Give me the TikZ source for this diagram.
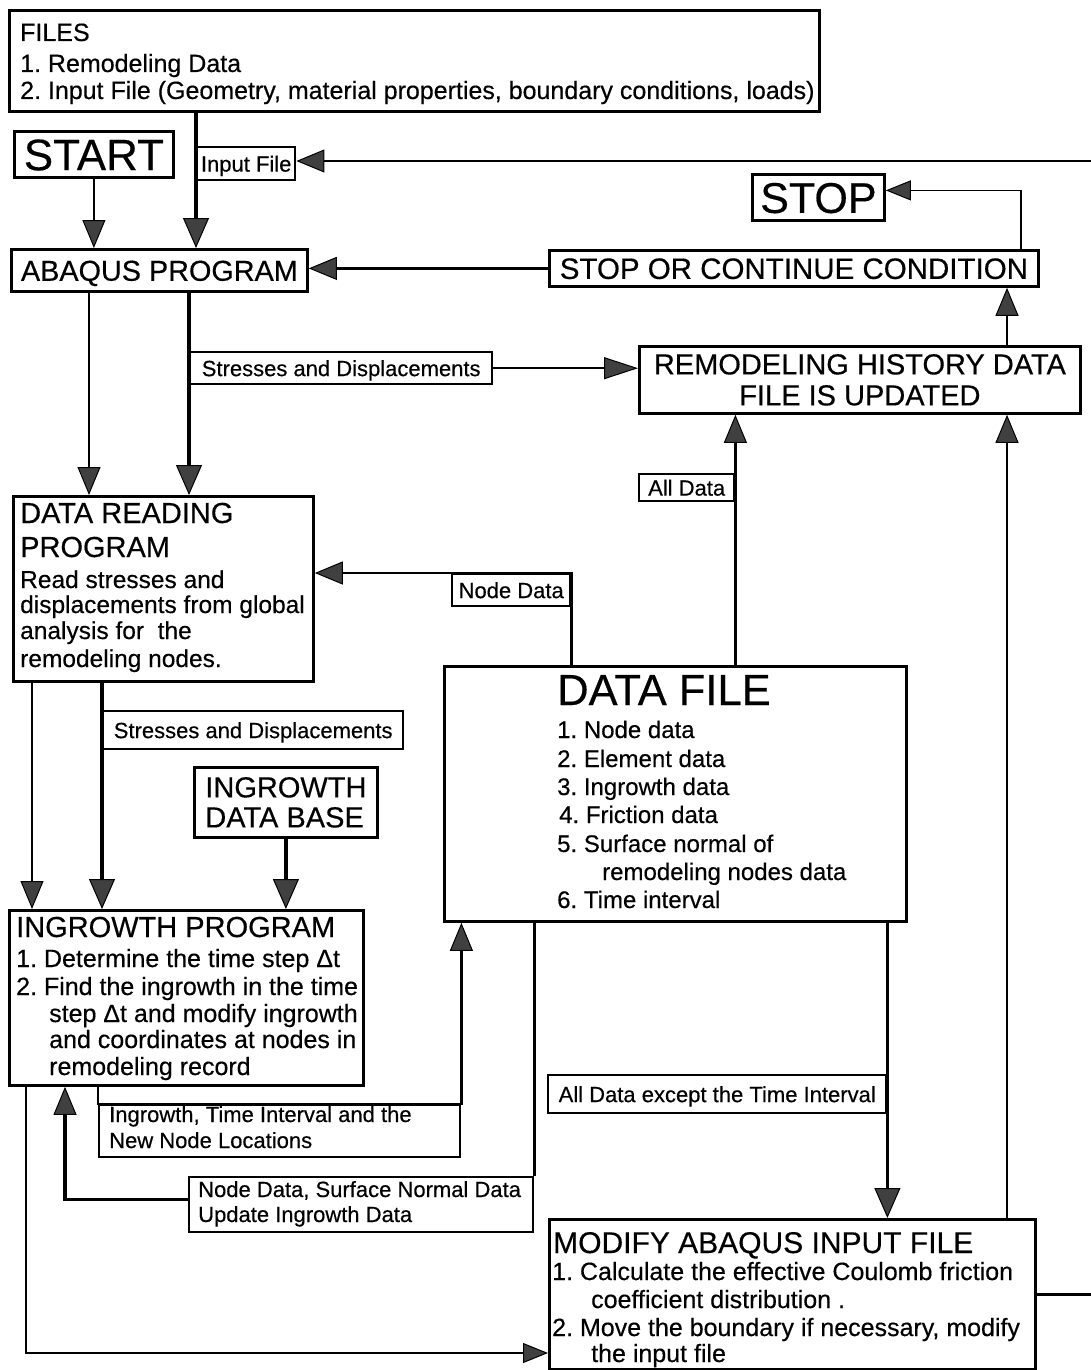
\documentclass[tikz,border=0pt]{standalone}
\usepackage{fontspec}
\setmainfont{Liberation Sans}[FakeBold=0.4]
\usetikzlibrary{arrows.meta}
\newcommand\fsz[1]{\fontsize{#1}{#1}\selectfont}
\newcommand\tline[5]{\node[tl] (#1) at (#2,#3) {\fsz{#4}#5};}
\begin{document}
\frenchspacing
\begin{tikzpicture}[x=1pt,y=-1pt,
  box/.style={draw, line width=2.8pt, inner sep=0pt, anchor=north west, fill=white},
  lab/.style={draw, line width=2.4pt, inner sep=0pt, anchor=north west, fill=white, font=\fsz{22}, text height=15.8pt, text depth=0pt},
  tl/.style={inner sep=0pt, anchor=base west},
  thinln/.style={line width=1.7pt},
  medln/.style={line width=2.4pt},
  thickln/.style={line width=3.4pt},
  arrS/.style={-{Triangle[length=25pt,width=20pt,fill=black!75,line width=1pt]}},
  arrM/.style={-{Triangle[length=28pt,width=23pt,fill=black!75,line width=1pt]}},
  arrL/.style={-{Triangle[length=30pt,width=26pt,fill=black!75,line width=1pt]}},
  arrLong/.style={-{Triangle[length=34pt,width=22pt,fill=black!75,line width=1pt]}}
]
\path[fill=white,use as bounding box] (0,0) rectangle (1091,1370);

% ---------- boxes ----------
\node[box, minimum width=810, minimum height=101] (files) at (8,9) {};
\node[box, minimum width=159, minimum height=46, font=\fsz{44}, text height=31.5pt, text depth=0pt] (start) at (13,130) {START};
\node[lab, minimum width=98, minimum height=33] (inlab) at (196,146) {Input File};
\node[box, minimum width=296, minimum height=42, font=\fsz{28.8}, text height=20.7pt, text depth=0pt] (abaqus) at (10,248) {ABAQUS PROGRAM};
\node[box, minimum width=132, minimum height=46, font=\fsz{43}, text height=31pt, text depth=0pt] (stop) at (751,173) {STOP};
\node[box, minimum width=489, minimum height=36, font=\fsz{29.5}, text height=21pt, text depth=0pt] (stopcond) at (548,249) {STOP OR CONTINUE CONDITION};
\node[box, minimum width=441, minimum height=67, align=center, font=\fontsize{29}{31}\selectfont] (remod) at (638,345) {REMODELING HISTORY DATA\\FILE IS UPDATED};
\node[lab, minimum width=302, minimum height=32] (sdlab1) at (189,351) {Stresses and Displacements};
\node[lab, minimum width=95, minimum height=27] (alldat) at (638,473) {All Data};
\node[box, minimum width=300, minimum height=185] (dataread) at (12,495) {};
\node[lab, minimum width=118, minimum height=32] (ndlab) at (451,573) {Node Data};
\node[box, minimum width=462, minimum height=255] (datafile) at (443,665) {};
\node[lab, minimum width=300, minimum height=38] (sdlab2) at (102,710) {Stresses and Displacements};
\node[box, minimum width=183, minimum height=70, align=left, font=\fontsize{29}{30}\selectfont] (igdb) at (193,766) {INGROWTH\\DATA BASE};
\node[box, minimum width=354, minimum height=175] (ingrowth) at (8,909) {};
\node[lab, minimum width=338, minimum height=38] (adlab) at (547,1074) {All Data except the Time Interval};
\node[lab, minimum width=361, minimum height=52] (inglab) at (98,1104) {};
\node[lab, minimum width=344, minimum height=55] (ndlab2) at (188,1176) {};
\node[box, minimum width=486, minimum height=150] (modify) at (548,1218) {};

% ---------- texts ----------
\tline{f1}{20}{41}{25}{FILES}
\tline{f2}{20}{72}{25}{1. Remodeling Data}
\tline{f3}{20}{99}{25}{2. Input File (Geometry, material properties, boundary conditions, loads)}

\tline{dr1}{20}{523}{29}{DATA READING}
\tline{dr2}{20}{557}{29}{PROGRAM}
\tline{dr3}{20}{588}{24.5}{Read stresses and}
\tline{dr4}{20}{613}{24.5}{displacements from global}
\tline{dr5}{20}{639}{24.5}{analysis for~ the}
\tline{dr6}{20}{667}{24.5}{remodeling nodes.}

\tline{df0}{557}{705}{43.5}{DATA FILE}
\tline{df1}{557}{738}{24}{1. Node data}
\tline{df2}{557}{767}{24}{2. Element data}
\tline{df3}{557}{795}{24}{3. Ingrowth data}
\tline{df4}{559}{823}{24}{4. Friction data}
\tline{df5}{557}{852}{24}{5. Surface normal of}
\tline{df6}{602}{880}{24}{remodeling nodes data}
\tline{df7}{557}{908}{24}{6. Time interval}

\tline{ig0}{16}{937}{29}{INGROWTH PROGRAM}
\tline{ig1}{16}{967}{25}{1. Determine the time step Δt}
\tline{ig2}{16}{995}{25}{2. Find the ingrowth in the time}
\tline{ig3}{49}{1022}{25}{step Δt and modify ingrowth}
\tline{ig4}{49}{1048}{25}{and coordinates at nodes in}
\tline{ig5}{49}{1075}{25}{remodeling record}

\tline{il1}{109}{1122}{22}{Ingrowth, Time Interval and the}
\tline{il2}{109}{1148}{22}{New Node Locations}
\tline{nl1}{198}{1197}{22}{Node Data, Surface Normal Data}
\tline{nl2}{198}{1222}{22}{Update Ingrowth Data}

\tline{mo0}{553}{1253}{30}{MODIFY ABAQUS INPUT FILE}
\tline{mo1}{552}{1280}{25}{1. Calculate the effective Coulomb friction}
\tline{mo2}{591}{1308}{25}{coefficient distribution .}
\tline{mo3}{552}{1336}{25}{2. Move the boundary if necessary, modify}
\tline{mo4}{591}{1362}{25}{the input file}

% ---------- helper coordinates ----------
\coordinate (cx196) at (196,0);
\coordinate (cx1021) at (1021,0);
\coordinate (cx1007) at (1007,0);
\coordinate (cx89) at (89,0);
\coordinate (cx189) at (189,0);
\coordinate (cx32) at (32,0);
\coordinate (cx65) at (65,0);
\coordinate (cx26) at (26,0);
\coordinate (cy1353) at (0,1353);
\coordinate (rE1) at (1091,161);

% ---------- connectors ----------
\draw[thickln, arrL] (files.south -| cx196) -- (abaqus.north -| cx196);
\draw[medln, arrM] (start.south) -- (start.south |- abaqus.north);
\draw[medln, arrM] (rE1) -- (rE1 -| inlab.east);
\draw[medln, arrM] (stopcond.west) -- (stopcond.west -| abaqus.east);
\draw[thinln, arrS] (stopcond.north -| cx1021) |- ([yshift=7pt]stop.east);
\draw[medln, arrM] (remod.north -| cx1007) -- (stopcond.south -| cx1007);
\draw[thinln, arrM] (abaqus.south -| cx89) -- (dataread.north -| cx89);
\draw[thickln, arrL] (abaqus.south -| cx189) -- (dataread.north -| cx189);
\draw[medln, arrLong] (sdlab1.east) -- (sdlab1.east -| remod.west);
\draw[thickln, arrM] (datafile.north -| alldat.east) -- (remod.south -| alldat.east);
\draw[medln, arrM] (datafile.north -| ndlab.east) |- (ndlab.north -| dataread.east);
\draw[thinln, arrM] (dataread.south -| cx32) -- (ingrowth.north -| cx32);
\draw[thickln, arrL] (dataread.south -| sdlab2.west) -- (ingrowth.north -| sdlab2.west);
\draw[thickln, arrL] (igdb.south) -- (igdb.south |- ingrowth.north);
\draw[medln, arrM] (ingrowth.south -| inglab.west) -- (inglab.north west) -- (inglab.north east) -- (inglab.north east |- datafile.south);
\draw[thickln] (datafile.south -| ndlab2.east) -- (ndlab2.north east);
\draw[thickln, arrM] ([yshift=5pt]ndlab2.west) -| (cx65 |- ingrowth.south);
\draw[thickln, arrL] (datafile.south -| adlab.east) -- (adlab.east |- modify.north);
\draw[thinln, arrS] (ingrowth.south -| cx26) |- (cy1353 -| modify.west);
\draw[medln, arrM] (modify.north -| cx1007) -- (remod.south -| cx1007);
\draw[medln] (modify.east) -- (modify.east -| rE1);
\end{tikzpicture}
\end{document}
